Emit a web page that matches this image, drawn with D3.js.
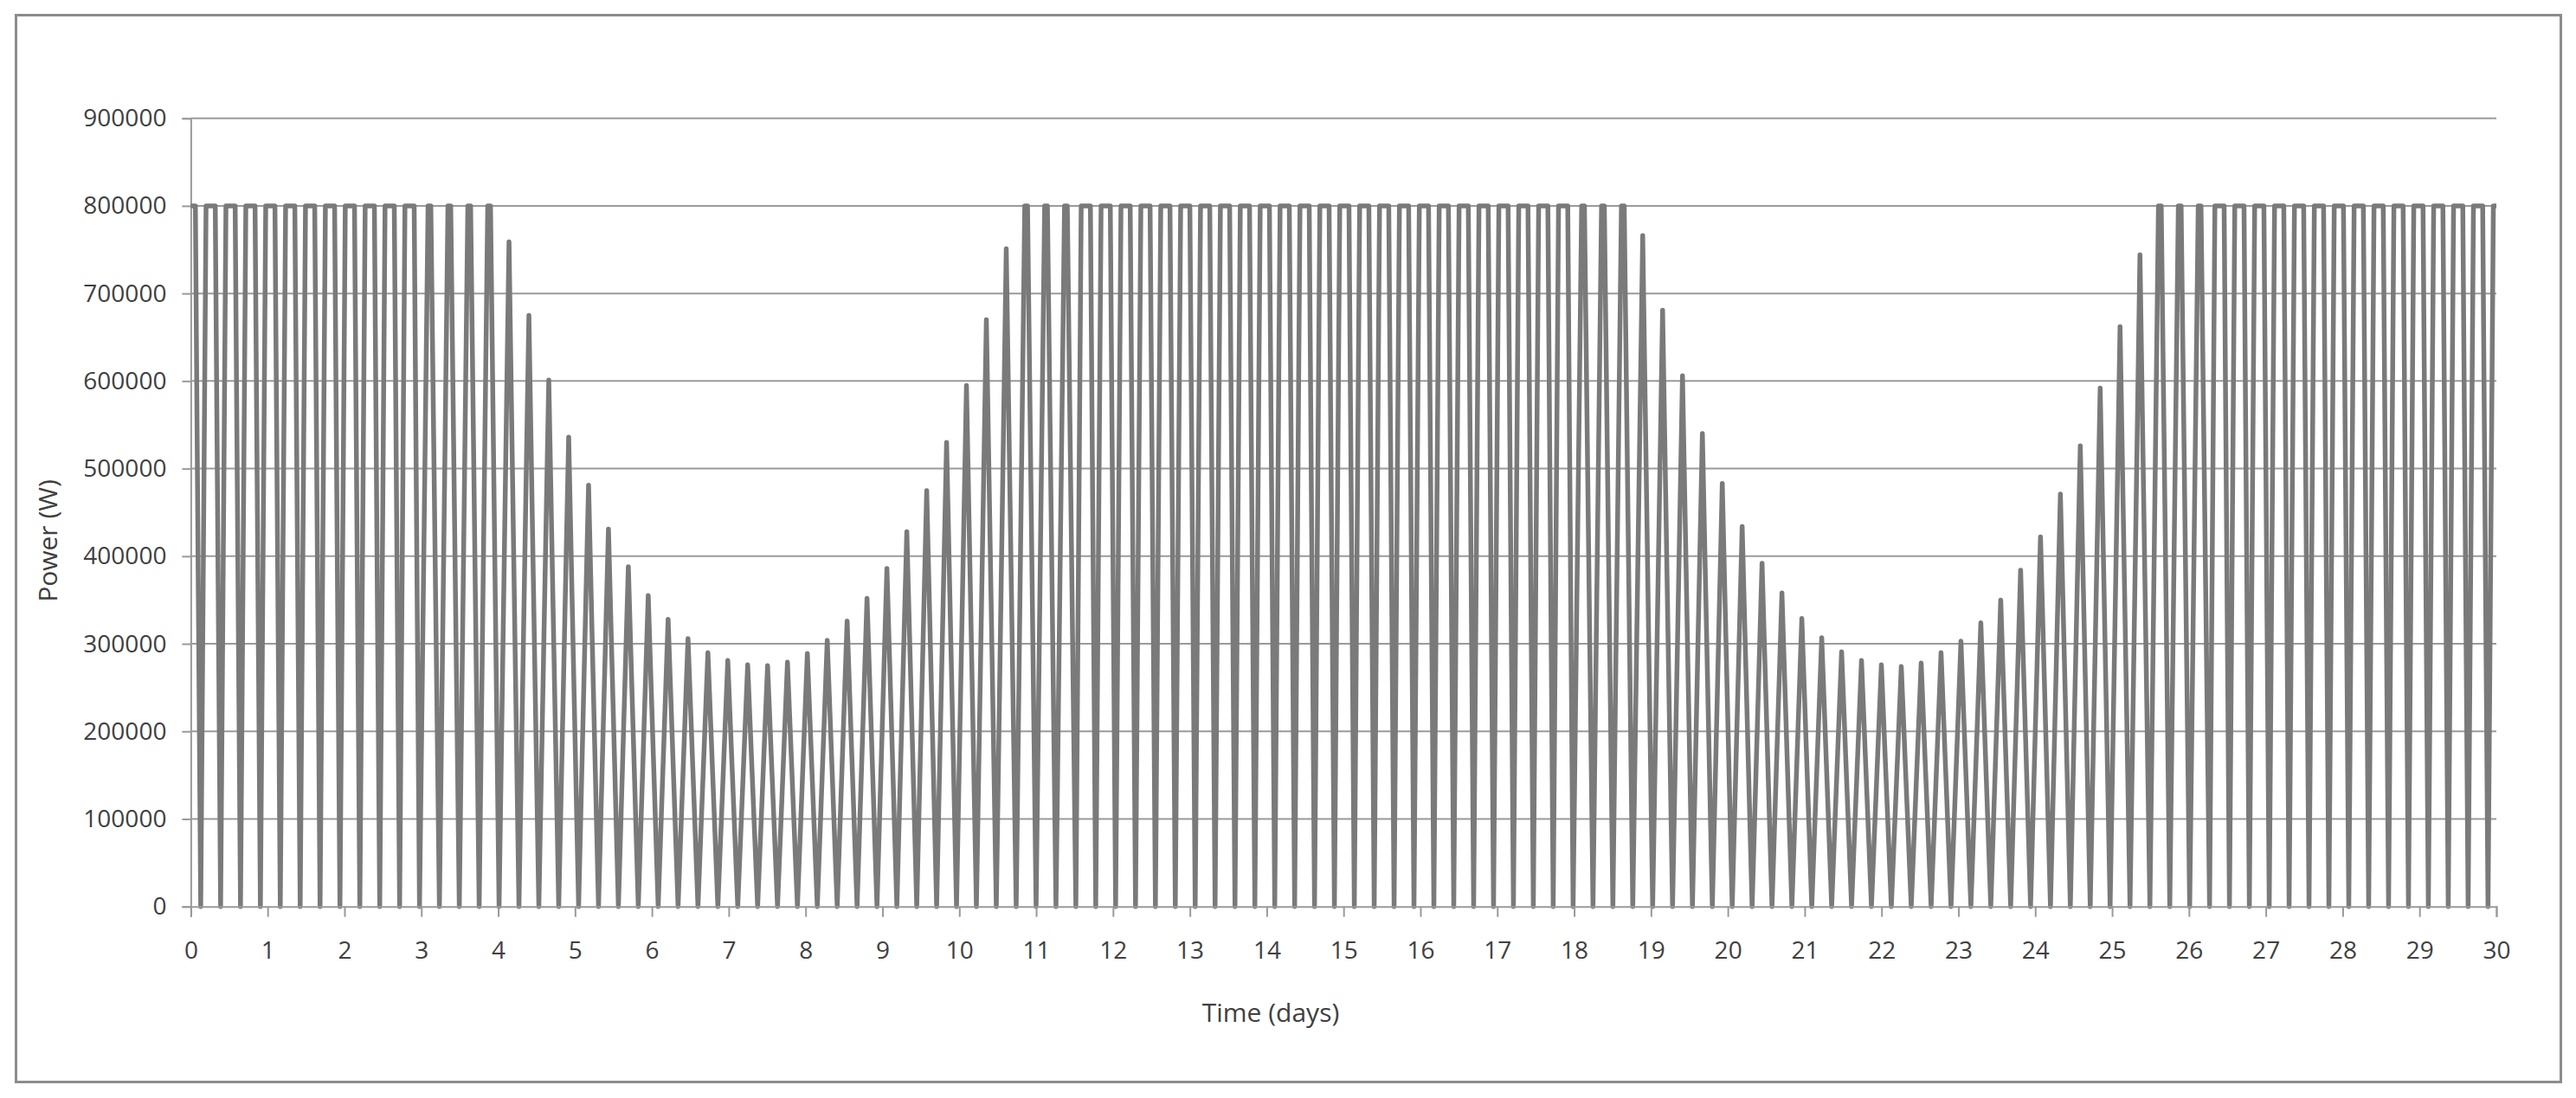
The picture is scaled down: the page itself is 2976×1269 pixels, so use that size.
<!DOCTYPE html>
<html>
<head>
<meta charset="utf-8">
<script src="https://cdn.jsdelivr.net/npm/d3@7"></script>
<style>
  html, body { margin: 0; padding: 0; background: #ffffff; }
  svg { display: block; }
</style>
</head>
<body>
<svg id="chart" width="2976" height="1269"></svg>
<script>
// ---------------- data ----------------
// spacing (days) between successive power peaks (flood / ebb)
const peakSpacingDays = 0.2588;
// peak power of each flood/ebb peak, in W (peak k occurs at k * peakSpacingDays)
const peakPower = [
  800000, 800000, 800000, 800000, 800000, 800000, 800000, 800000,
  800000, 800000, 800000, 800000, 800000, 800000, 800000, 800000,
  759000, 675000, 601000, 536000, 481000, 431000, 388000, 355000,
  328000, 306000, 290000, 281000, 276000, 275000, 279000, 289000,
  304000, 326000, 352000, 386000, 428000, 475000, 530000, 595000,
  670000, 751000,
  800000, 800000, 800000, 800000, 800000, 800000, 800000, 800000,
  800000, 800000, 800000, 800000, 800000, 800000, 800000, 800000,
  800000, 800000, 800000, 800000, 800000, 800000, 800000, 800000,
  800000, 800000, 800000, 800000, 800000, 800000, 800000,
  766000, 681000, 606000, 540000, 483000, 434000, 392000, 358000,
  329000, 307000, 291000, 281000, 276000, 274000, 278000, 290000,
  303000, 324000, 350000, 384000, 422000, 471000, 526000, 592000,
  662000, 744000,
  800000, 800000, 800000, 800000, 800000, 800000, 800000, 800000,
  800000, 800000, 800000, 800000, 800000, 800000, 800000, 800000,
  800000, 800000
];
// rated (capped) power, W
const ratedPower = 800000;
// power between two peaks (slack water), W
const slackPower = 0;
// half duration (days) the output stays at rated power around a capped peak
const plateauHalfDays = 0.06;
// capped peaks whose flat top is only just reached (narrow tops)
const narrowTopPeaks = [12, 13, 14, 15, 42, 43, 44, 70, 71, 72, 99, 100, 101];
const narrowPlateauHalfDays = 0.018;

const xTickValues = d3.range(0, 31, 1);
const yTickValues = [0, 100000, 200000, 300000, 400000, 500000, 600000, 700000, 800000, 900000];
const xDomain = [0, 30];
const yDomain = [0, 900000];
const xTitle = "Time (days)";
const yTitle = "Power (W)";

// ---------------- layout ----------------
const svg = d3.select("#chart");
const plot = { left: 220.4, right: 2884, top: 136.7, bottom: 1047.7 };
const FONT = "'Open Sans', 'Liberation Sans', sans-serif";
const TEXT = "#404040";
const GRID = "#9a9a9a";
const LINE = "#7a7a7a";

const x = d3.scaleLinear().domain(xDomain).range([plot.left, plot.right]);
const y = d3.scaleLinear().domain(yDomain).range([plot.bottom, plot.top]);

// outer chart border
svg.append("rect")
  .attr("x", 18.5).attr("y", 17.5)
  .attr("width", 2940).attr("height", 1233)
  .attr("fill", "#ffffff")
  .attr("stroke", "#8c8c8c")
  .attr("stroke-width", 3);

// horizontal gridlines
svg.append("g").selectAll("line")
  .data(yTickValues.filter(v => v > 0))
  .join("line")
  .attr("x1", plot.left).attr("x2", plot.right)
  .attr("y1", d => y(d)).attr("y2", d => y(d))
  .attr("stroke", GRID).attr("stroke-width", 2);

// y axis
const yAxis = d3.axisLeft(y).tickValues(yTickValues).tickSize(10).tickPadding(18)
  .tickFormat(d3.format("d"));
const gy = svg.append("g").attr("transform", `translate(${plot.left},0)`).call(yAxis);
gy.select(".domain").attr("stroke", GRID).attr("stroke-width", 2);
gy.selectAll(".tick line").attr("stroke", GRID).attr("stroke-width", 2);
gy.selectAll(".tick text")
  .attr("font-family", FONT).attr("font-size", 28).attr("fill", TEXT);

// series points: slack (0) between peaks, peak or flat rated-power top at each peak
const points = [];
peakPower.forEach((p, k) => {
  const t = k * peakSpacingDays;
  if (k > 0) points.push([t - peakSpacingDays / 2, slackPower]);
  if (p >= ratedPower) {
    const hw = narrowTopPeaks.includes(k) ? narrowPlateauHalfDays : plateauHalfDays;
    points.push([t - hw, p]);
    points.push([t + hw, p]);
  } else {
    points.push([t, p]);
  }
});

svg.append("clipPath").attr("id", "plotClip")
  .append("rect")
  .attr("x", plot.left).attr("y", plot.top - 10)
  .attr("width", plot.right - plot.left).attr("height", plot.bottom - plot.top + 20);

const line = d3.line()
  .x(d => x(d[0]))
  .y(d => y(d[1]))
  .curve(d3.curveLinear);

svg.append("path")
  .datum(points)
  .attr("clip-path", "url(#plotClip)")
  .attr("d", line)
  .attr("fill", "none")
  .attr("stroke", LINE)
  .attr("stroke-width", 5.5)
  .attr("stroke-linejoin", "round")
  .attr("stroke-linecap", "round");

// x axis
const xAxis = d3.axisBottom(x).tickValues(xTickValues).tickSize(12).tickPadding(28)
  .tickFormat(d3.format("d"));
const gx = svg.append("g").attr("transform", `translate(0,${plot.bottom})`).call(xAxis);
gx.select(".domain").attr("stroke", GRID).attr("stroke-width", 2);
gx.selectAll(".tick line").attr("stroke", GRID).attr("stroke-width", 2);
gx.selectAll(".tick text")
  .attr("font-family", FONT).attr("font-size", 28).attr("fill", TEXT);

// axis titles
svg.append("text")
  .attr("x", 1468).attr("y", 1181)
  .attr("text-anchor", "middle")
  .attr("font-family", FONT).attr("font-size", 30).attr("fill", TEXT)
  .text(xTitle);

svg.append("text")
  .attr("transform", "translate(66,625) rotate(-90)")
  .attr("text-anchor", "middle")
  .attr("font-family", FONT).attr("font-size", 30).attr("fill", TEXT)
  .text(yTitle);
</script>
</body>
</html>
